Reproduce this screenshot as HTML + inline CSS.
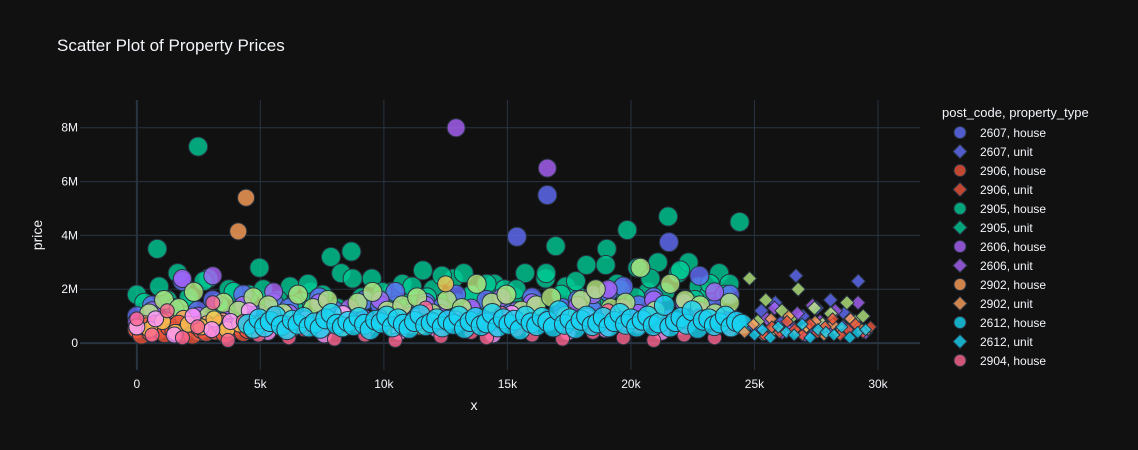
<!DOCTYPE html>
<html><head><meta charset="utf-8"><style>
body{margin:0;background:#111111;font-family:"Liberation Sans",sans-serif;}
svg{display:block}
text{fill:#f2f5fa;font-family:"Liberation Sans",sans-serif}
</style></head><body>
<svg id="chart" width="1138" height="450" xmlns="http://www.w3.org/2000/svg">
<rect width="1138" height="450" fill="#111111"/>
<text x="57" y="51" font-size="17">Scatter Plot of Property Prices</text>
<g id="grid"></g>
<g id="marks"></g>
<g id="axes"></g>
<text x="474" y="410" font-size="14" text-anchor="middle">x</text>
<text x="42" y="235" font-size="14" text-anchor="middle" transform="rotate(-90 42 235)">price</text>
<g id="legend"></g>
</svg>
<script>
const xTicks=[0,5000,10000,15000,20000,25000,30000];
const xTickLabels=["0","5k","10k","15k","20k","25k","30k"];
const yTicks=[0,2,4,6,8];
const yTickLabels=["0","2M","4M","6M","8M"];
const legendLabels=["2607, house","2607, unit","2906, house","2906, unit","2905, house","2905, unit","2606, house","2606, unit","2902, house","2902, unit","2612, house","2612, unit","2904, house"];
const legendColors=["#636efa","#636efa","#EF553B","#EF553B","#00cc96","#00cc96","#ab63fa","#ab63fa","#FFA15A","#FFA15A","#19d3f3","#19d3f3","#FF6692"];
const legendSymbols=["c","d","c","d","c","d","c","d","c","d","c","d","c"];

const green2905House=[1.8,1.2,3.5,1.6,2.6,1.4,7.3,2.4,1.5,2.0,1.3,1.8,2.8,1.6,1.2,2.1,1.5,1.9,1.3,3.2,2.6,3.4,1.7,2.4,1.4,1.9,2.2,1.6,2.7,2.0,1.5,2.4,2.6,1.8,1.3,2.2,2.0,1.7,2.6,1.4,2.4,3.6,2.1,1.8,2.9,1.6,3.5,2.2,4.2,2.8,1.9,3.0,4.7,2.6,3.0,2.1,1.8,2.6,2.2,4.5];
const green2905HouseB=[1.5,2.1,1.3,1.7,2.3,1.4,1.9,1.2,2.0,1.6,1.4,2.2,1.8,1.3,2.4,1.6,1.9,1.4,2.1,1.7,2.5,1.5,1.8,2.2,1.4,2.0,1.6,2.6,1.8,2.3,1.5,2.9,2.0,1.7,2.4,1.9,2.7,1.6,2.2,1.8];
const blue2607House=[1.0,1.4,0.8,2.3,1.2,1.6,0.9,1.8,1.1,1.5,1.3,0.9,1.7,1.2,1.0,1.6,1.4,1.9,1.1,1.5,1.3,1.8,1.2,1.6,1.4,3.95,1.7,5.5,1.3,1.6,1.2,1.9,2.1,1.4,1.7,3.75,1.5,2.5,1.3,1.8];
const purple2606House=[0.8,1.2,0.6,2.4,1.0,2.5,0.9,1.4,0.7,1.9,1.1,0.8,1.5,1.0,1.3,0.9,1.6,1.2,1.0,1.4,1.1,8.0,1.3,0.9,1.7,1.2,1.5,6.5,1.0,1.4,1.8,2.0,1.3,1.1,1.6,0.9,1.5,1.2,1.9,1.0];
const lime2903House=[1.1,1.6,1.3,1.9,1.0,1.5,1.2,1.7,1.4,1.1,1.8,1.3,1.6,1.0,1.5,1.9,1.2,1.4,1.7,1.1,1.6,1.3,2.2,1.5,1.8,1.2,1.4,1.7,1.0,1.6,2.0,1.3,1.5,2.8,1.2,2.2,1.6,1.4,1.1,1.5];
const orange2902House=[0.5,0.7,0.4,0.6,0.8,0.5,0.9,0.6,0.4,0.7,0.5,0.8,0.6,4.15,5.4,0.7,0.5,0.6,0.8,0.5];
const red2906House=[0.5,0.3,0.6,0.4,0.7,0.5,0.35,0.6,0.45,0.7,0.4,0.55,0.3,0.65,0.5,0.4,0.6,0.45,0.7,0.35,0.55,0.5,0.6,0.4,0.5];
const yellow2911House=[0.6,0.5,0.8,0.4,0.7,0.6,0.9,0.5,0.7,0.45,0.8,0.6,0.5,0.75,0.65,0.9,0.55,0.7,0.6,0.8,0.5,0.7,0.6,0.85,2.2];
const magenta2913House=[0.6,0.9,0.3,1.0,0.5,0.8,1.2,0.4,0.7,0.9,0.3,1.1,0.6,0.8,0.4,1.0,0.5,0.9,0.7,0.3,1.1,0.6,0.8,0.4,1.0,0.5,0.7,0.9,0.4,0.6];
const pink2904House=[0.9,0.3,1.2,0.2,0.6,1.5,0.1,0.8,0.3,1.1,0.2,0.5,0.9,0.15,0.7,0.3,1.0,0.1,0.6,1.3,0.25,0.8,0.4,0.2,1.1,0.5,0.3,0.9,0.15,0.7,0.4,1.2,0.2,0.6,0.1,0.8,0.3,1.0,0.2,0.5];
const cyan2612House=[0.7,0.55,0.9,0.6,0.8,1.0,0.65,0.5,0.85,0.7,0.95,0.6,0.75,0.55,0.9,1.1,0.7,0.6,0.8,0.65,0.95,0.7,0.5,0.85,0.75,1.0,0.6,0.9,0.7,0.55,0.8,1.05,0.65,0.75,0.9,0.6,0.85,0.7,1.0,0.55,0.8,0.95,0.65,0.75,1.1,0.6,0.9,0.7,0.85,0.5,1.0,0.75,0.65,0.95,0.8,0.6,1.2,0.7,0.9,0.55,0.85,1.0,0.65,0.75,0.95,0.6,0.8,1.1,0.7,0.9,0.6,0.85,1.0,0.65,0.75,1.4,0.6,0.8,0.95,0.7,1.2,0.55,0.85,0.9,0.65,0.75,1.0,0.6,0.8,0.7];
const blue2607Unit=[0.6,1.2,0.4,1.5,0.8,0.5,2.5,1.0,0.4,1.3,0.7,1.6,0.5,1.1,0.6,2.3];
const purple2606Unit=[0.5,0.9,1.3,0.4,0.7,1.1,0.3,1.4,0.8,0.5,1.2,0.6,0.9,1.5,0.4];
const lime2903Unit=[2.4,0.8,1.6,0.5,1.2,0.9,2.0,0.6,1.3,0.7,1.1,0.4,1.5,0.8,1.0];
const orange2902Unit=[0.4,0.7,0.3,0.9,0.5,1.0,0.4,0.6,0.8,0.3,0.7,0.5,0.9,0.6,0.5];
const red2906Unit=[0.3,0.6,0.4,0.8,0.5,0.3,0.7,0.4,0.6,0.9,0.3,0.5,0.7,0.4,0.6];
const cyan2612Unit=[0.3,0.5,0.2,0.6,0.4,0.3,0.7,0.2,0.5,0.4,0.3,0.6,0.2,0.4,0.5];

const series=[
 {name:"2905-house",data:green2905House,x0:0,x1:24400,c:"#00cc96",s:"c",r:9.5},
 {name:"2905-house-b",data:green2905HouseB,x0:300,x1:23800,c:"#00cc96",s:"c",r:9.5},
 {name:"2607-house",data:blue2607House,x0:0,x1:24000,c:"#636efa",s:"c",r:9.5},
 {name:"2606-house",data:purple2606House,x0:0,x1:24000,c:"#ab63fa",s:"c",r:9},
 {name:"2903-house",data:lime2903House,x0:500,x1:24000,c:"#B6E880",s:"c",r:9.5},
 {name:"2902-house",data:orange2902House,x0:0,x1:6000,c:"#FFA15A",s:"c",r:8.5},
 {name:"2906-house",data:red2906House,x0:0,x1:4500,c:"#EF553B",s:"c",r:9},
 {name:"2911-house",data:yellow2911House,x0:0,x1:12500,c:"#FECB52",s:"c",r:8},
 {name:"2913-house",data:magenta2913House,x0:0,x1:22000,c:"#FF97FF",s:"c",r:8},
 {name:"2904-house",data:pink2904House,x0:0,x1:24000,c:"#FF6692",s:"c",r:7},
 {name:"2612-house",data:cyan2612House,x0:4500,x1:24500,c:"#19d3f3",s:"c",r:10},
 {name:"2607-unit",data:blue2607Unit,x0:25000,x1:29200,c:"#636efa",s:"d",r:7},
 {name:"2606-unit",data:purple2606Unit,x0:25200,x1:29500,c:"#ab63fa",s:"d",r:7},
 {name:"2903-unit",data:lime2903Unit,x0:24800,x1:29400,c:"#B6E880",s:"d",r:7},
 {name:"2902-unit",data:orange2902Unit,x0:24600,x1:29600,c:"#FFA15A",s:"d",r:6},
 {name:"2906-unit",data:red2906Unit,x0:25400,x1:29700,c:"#EF553B",s:"d",r:6},
 {name:"2612-unit",data:cyan2612Unit,x0:25000,x1:29500,c:"#19d3f3",s:"d",r:6}
];
const NS="http://www.w3.org/2000/svg";
const L=80,R=920,T=100,B=370,XMIN=-2300,XMAX=31700,YMIN=-1.0,YMAX=9.03;
const xs=v=>L+(v-XMIN)/(XMAX-XMIN)*(R-L);
const ys=v=>B-(v-YMIN)/(YMAX-YMIN)*(B-T);
function el(t,a){const e=document.createElementNS(NS,t);for(const k in a)e.setAttribute(k,a[k]);return e;}
const grid=document.getElementById('grid'),axes=document.getElementById('axes'),marks=document.getElementById('marks'),leg=document.getElementById('legend');
xTicks.forEach((t,i)=>{
 const ln=el('line',{x1:xs(t),x2:xs(t),y1:T,y2:B,stroke:"#283442","stroke-width":t===0?2:1});
 
 
 grid.appendChild(ln);
 const tx=el('text',{x:xs(t),y:388,"font-size":12,"text-anchor":"middle"});tx.textContent=xTickLabels[i];
 
 
 axes.appendChild(tx);
});
yTicks.forEach((t,i)=>{
 const ln=el('line',{x1:L,x2:R,y1:ys(t),y2:ys(t),stroke:"#283442","stroke-width":t===0?2:1});
 
 
 grid.appendChild(ln);
 const tx=el('text',{x:78,y:ys(t)+4,"font-size":12,"text-anchor":"end"});tx.textContent=yTickLabels[i];
 
 
 axes.appendChild(tx);
});
function marker(sym,cx,cy,r,c){
 if(sym==="c")return el('circle',{cx:cx,cy:cy,r:r,fill:c,"fill-opacity":0.8,stroke:"#283442","stroke-width":1});
 return el('path',{d:`M${cx},${cy-r}L${cx+r},${cy}L${cx},${cy+r}L${cx-r},${cy}Z`,fill:c,"fill-opacity":0.8,stroke:"#283442","stroke-width":1});
}
series.forEach(s=>{
 const g=el('g',{});
 
 
 const n=s.data.length;
 s.data.forEach((v,i)=>{
  const xv=s.x0+(n>1?i*(s.x1-s.x0)/(n-1):0);
  const m=marker(s.s,xs(xv),ys(v),s.r,s.c);
  
  
  g.appendChild(m);
 });
 marks.appendChild(g);
});
const lt=el('text',{x:942,y:117,"font-size":13});lt.textContent="post_code, property_type";


leg.appendChild(lt);
legendLabels.forEach((lab,i)=>{
 const y=132.5+i*19;
 const g=el('g',{});
 
 
 g.appendChild(marker(legendSymbols[i],960,y,legendSymbols[i]==="c"?6:7,legendColors[i]));
 const t=el('text',{x:980,y:y+4.5,"font-size":12});t.textContent=lab;
 g.appendChild(t);
 leg.appendChild(g);
});
</script>
</body></html>
